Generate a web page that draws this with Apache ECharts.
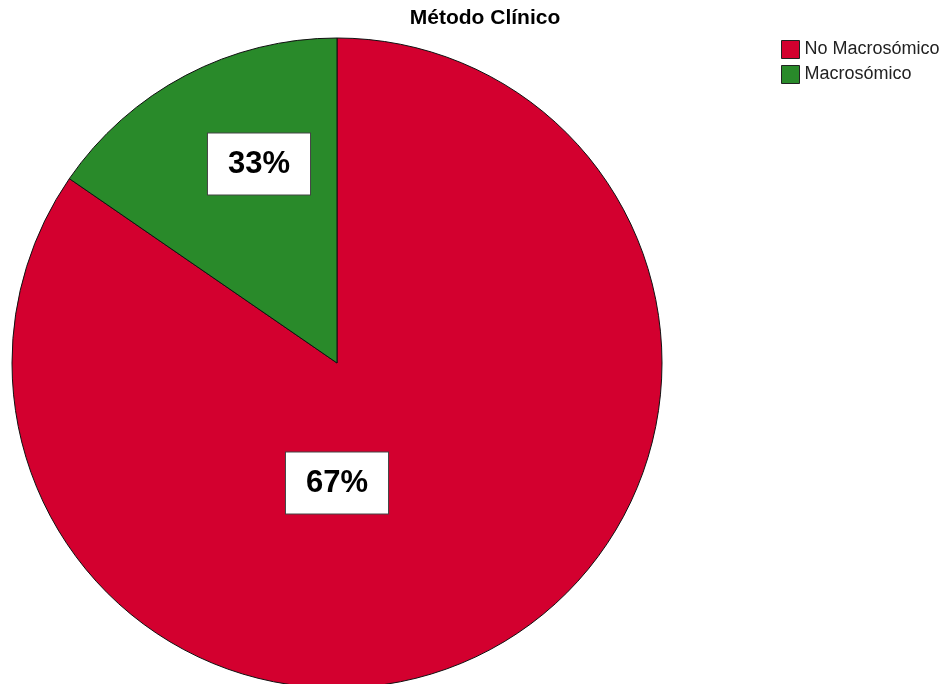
<!DOCTYPE html>
<html>
<head>
<meta charset="utf-8">
<script src="https://cdn.jsdelivr.net/npm/echarts@6/dist/echarts.min.js"></script>
<style>html,body{margin:0;padding:0;background:#fff;}#c{width:944px;height:684px;}</style>
</head>
<body>
<div id="c"></div>
<script>
var categories = ['No Macrosómico', 'Macrosómico'];
var values = [84.6, 15.4];
var labelTexts = ['67%', '33%'];
var colors = ['#D3002F', '#298A2A'];
var titleText = 'Método Clínico';

var cx = 337, cy = 363, R = 325;
// label centre offsets from pie centre (px)
var labelOffsets = [[0, 120], [-78, -199]];

var chart = echarts.init(document.getElementById('c'), null, {renderer: 'canvas'});
chart.setOption({
  animation: false,
  backgroundColor: '#fff',
  title: {
    text: titleText,
    left: 480, top: 3,
    textAlign: 'center',
    textStyle: {fontFamily: 'Arial, Liberation Sans', fontWeight: 'bold', fontSize: 21, color: '#000'}
  },
  legend: {
    orient: 'vertical',
    left: 776, top: 35,
    itemWidth: 18, itemHeight: 18, itemGap: 6,
    icon: 'rect',
    itemStyle: {borderColor: '#222', borderWidth: 1},
    textStyle: {fontFamily: 'Arial, Liberation Sans', fontSize: 18, color: '#222'},
    data: categories
  },
  series: [{
    type: 'pie',
    center: [cx, cy],
    radius: [0, R],
    startAngle: 90,
    clockwise: true,
    avoidLabelOverlap: false,
    itemStyle: {borderColor: '#111', borderWidth: 1},
    label: {
      show: true,
      position: 'inside',
      formatter: function (p) { return labelTexts[p.dataIndex]; },
      fontFamily: 'Arial, Liberation Sans',
      fontWeight: 'bold',
      fontSize: 31,
      color: '#000',
      backgroundColor: '#fff',
      borderColor: '#444',
      borderWidth: 1,
      overflow: 'none',
      align: 'center',
      padding: [16, 20, 14, 20]
    },
    labelLayout: function (p) {
      var o = labelOffsets[p.dataIndex];
      return {x: cx + o[0], y: cy + o[1], align: 'center', verticalAlign: 'middle'};
    },
    emphasis: {disabled: true},
    data: categories.map(function (n, i) {
      return {name: n, value: values[i], itemStyle: {color: colors[i]}};
    })
  }]
});
</script>
</body>
</html>
